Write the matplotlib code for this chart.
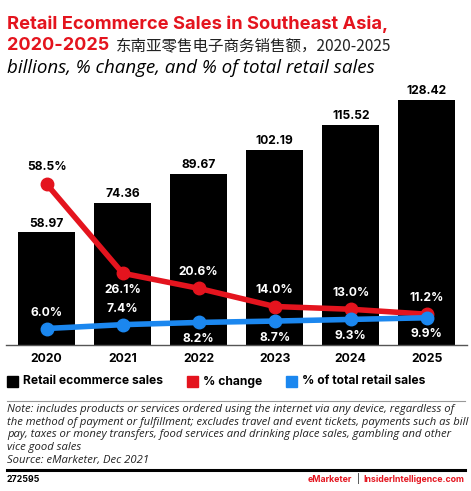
import matplotlib
matplotlib.use("Agg")
import matplotlib.pyplot as plt
from matplotlib.patches import Rectangle
from matplotlib.lines import Line2D

years = ["2020", "2021", "2022", "2023", "2024", "2025"]
sales = [58.97, 74.36, 89.67, 102.19, 115.52, 128.42]
pct_change = [58.5, 26.1, 20.6, 14.0, 13.0, 11.2]
pct_total = [6.0, 7.4, 8.2, 8.7, 9.3, 9.9]
change_label_pos = ["above", "below", "above", "above", "above", "above"]
total_label_pos = ["above", "above", "below", "below", "below", "below"]
note_lines = [
    "Note: includes products or services ordered using the internet via any device, regardless of",
    "the method of payment or fulfillment; excludes travel and event tickets, payments such as bill",
    "pay, taxes or money transfers, food services and drinking place sales, gambling and other",
    "vice good sales",
    "Source: eMarketer, Dec 2021",
]

RED = "#e4141e"
BLUE = "#1b87ef"
BOLD = "Inter"
ITAL = "Open Sans"

W, H = 471, 491
fig = plt.figure(figsize=(W / 100, H / 100), dpi=100)

def fx(x):
    return x / W

def fy(y):
    return 1 - y / H

# axes geometry (pixels)
ax_left, ax_right, ax_bottom, ax_top = 6, 467, 345, 95
ax = fig.add_axes([fx(ax_left), fy(ax_bottom), fx(ax_right - ax_left), (ax_bottom - ax_top) / H])
ax_h = ax_bottom - ax_top
ax.set_ylim(0, ax_h / 1.908)
x = list(range(len(years)))
ax.set_xlim(-0.535, 5.53)
ax.bar(x, sales, width=0.75, color="black", zorder=1)
for xi, v in zip(x, sales):
    ax.annotate(f"{v:.2f}", (xi, v), xytext=(0, 2), textcoords="offset points",
                ha="center", va="bottom", fontsize=8.7, fontweight="bold",
                family=BOLD, color="black")
for s in ["top", "right", "left"]:
    ax.spines[s].set_visible(False)
ax.spines["bottom"].set_color("#555555")
ax.spines["bottom"].set_linewidth(1.0)
ax.set_yticks([])
ax.set_xticks(x)
ax.set_xticklabels(years, fontsize=8.8, fontweight="bold", family=BOLD)
ax.tick_params(axis="x", length=0, pad=6)

ax2 = ax.twinx()
ax2.set_ylim(0, ax_h / 2.75)
ax2.set_yticks([])
for s in ["top", "right", "left", "bottom"]:
    ax2.spines[s].set_visible(False)
ax2.plot(x, pct_change, color=RED, lw=4, marker="o", ms=9, zorder=3, solid_capstyle="round")
ax2.plot(x, pct_total, color=BLUE, lw=4, marker="o", ms=9, zorder=3, solid_capstyle="round")
for xi, v, pos in zip(x, pct_change, change_label_pos):
    off = 12 if pos == "above" else -12
    col = "black" if xi == 0 else "white"
    ax2.annotate(f"{v:.1f}%", (xi, v), xytext=(0, off), textcoords="offset points",
                 ha="center", va="center", fontsize=8.7, fontweight="bold",
                 family=BOLD, color=col)
for xi, v, pos in zip(x, pct_total, total_label_pos):
    off = 11.5 if pos == "above" else -12
    ax2.annotate(f"{v:.1f}%", (xi, v), xytext=(0, off), textcoords="offset points",
                 ha="center", va="center", fontsize=8.7, fontweight="bold",
                 family=BOLD, color="white")

# Titles
fig.text(fx(7), fy(29), "Retail Ecommerce Sales in Southeast Asia,", color=RED,
         fontsize=13.2, fontweight="bold", family=BOLD, va="baseline", ha="left")
fig.text(fx(7), fy(50), "2020-2025", color=RED,
         fontsize=13.0, fontweight="bold", family=BOLD, va="baseline", ha="left")
fig.text(fx(116), fy(50), "东南亚零售电子商务销售额，2020-2025", color="#222222",
         fontsize=11.2, family=["Noto Sans CJK SC", "DejaVu Sans"], va="baseline", ha="left")
fig.text(fx(7), fy(73), "billions, % change, and % of total retail sales", color="black",
         fontsize=13.5, style="italic", family=ITAL, va="baseline", ha="left")

# Legend
leg_y = 381.5
items = [(6.7, 22.7, "black", "Retail ecommerce sales"),
         (187.3, 203, RED, "% change"),
         (285.7, 301.7, BLUE, "% of total retail sales")]
for sx, tx, c, lab in items:
    fig.patches.append(Rectangle((fx(sx), fy(leg_y + 5.5)), fx(11), 11 / H,
                                 transform=fig.transFigure, color=c, figure=fig))
    fig.text(fx(tx), fy(leg_y), lab, fontsize=8.7, fontweight="bold", family=BOLD,
             va="center", ha="left", color="black")

# separators
fig.add_artist(Line2D([fx(7), fx(465)], [fy(400.5), fy(400.5)], color="#999999", lw=0.8))
fig.add_artist(Line2D([fx(7), fx(465)], [fy(469.5), fy(469.5)], color="black", lw=2.2))

for i, line in enumerate(note_lines):
    fig.text(fx(7), fy(409.5 + i * 12.7), line, fontsize=8.1, style="italic", family=ITAL,
             va="center", ha="left", color="#222222")

fig.text(fx(7), fy(479), "272595", fontsize=6.3, fontweight="bold", family=BOLD,
         va="center", ha="left", color="black")

# footer, right aligned pieces measured with the renderer
renderer = fig.canvas.get_renderer()
t1 = fig.text(fx(464), fy(479), "InsiderIntelligence.com", fontsize=6.3, fontweight="bold",
              family=BOLD, va="center", ha="right", color=RED)
bb = t1.get_window_extent(renderer)
left1 = bb.x0
fig.text((left1 - 5) / W, fy(479), "|", fontsize=6.3, family=BOLD,
         va="center", ha="center", color="black")
fig.text((left1 - 11) / W, fy(479), "eMarketer", fontsize=6.3, fontweight="bold",
         family=BOLD, va="center", ha="right", color=RED)

fig.savefig("out.png", dpi=100)
